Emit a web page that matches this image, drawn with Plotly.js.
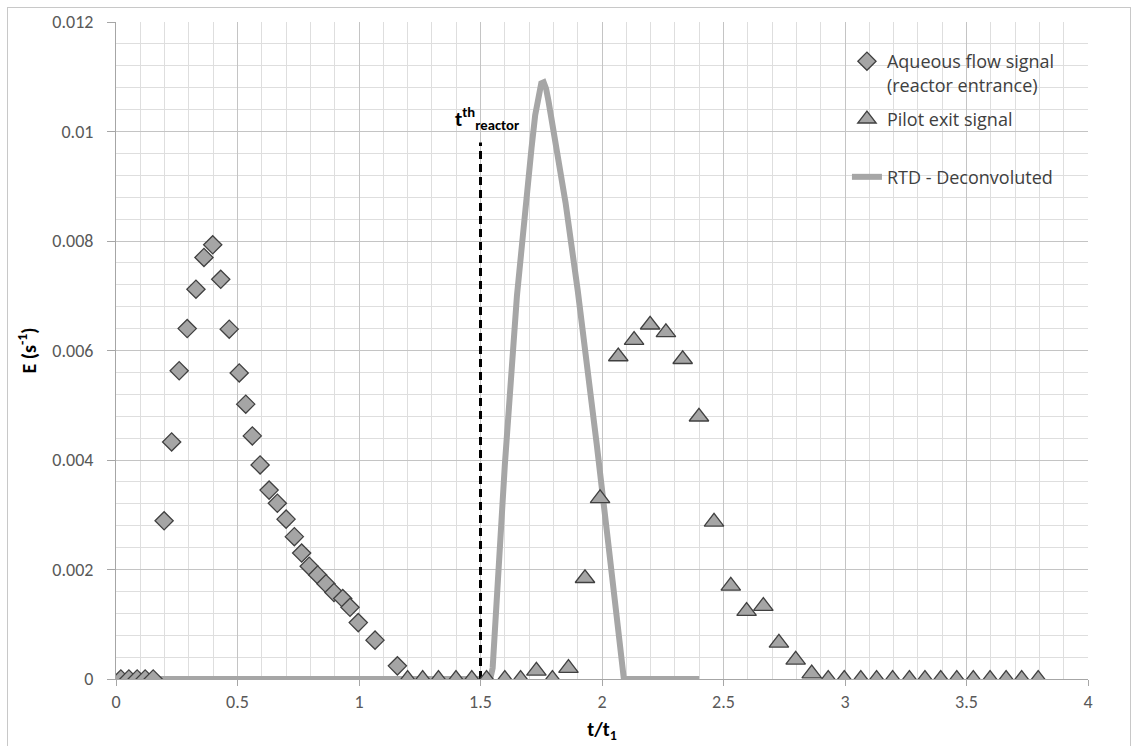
<!DOCTYPE html>
<html>
<head>
<meta charset="utf-8">
<script src="https://cdn.plot.ly/plotly-3.0.1.min.js"></script>
<style>
  html, body { margin: 0; padding: 0; background: #ffffff; }
  #chart { width: 1136px; height: 746px; position: relative; }
  #frame { position: absolute; left: 7px; top: 7px; width: 1122px; height: 745px; border: 1px solid #c8c8c8; pointer-events: none; }
</style>
</head>
<body>
<div id="chart"></div>
<div id="frame"></div>
<script>
// Aqueous flow signal (reactor entrance)
const aqueousX = [0.02, 0.053, 0.087, 0.12, 0.153, 0.198, 0.229, 0.26, 0.293, 0.329, 0.362, 0.398, 0.431, 0.466, 0.507, 0.534, 0.561, 0.593, 0.63, 0.664, 0.70, 0.734, 0.764, 0.795, 0.83, 0.864, 0.897, 0.933, 0.963, 0.997, 1.066, 1.158];
const aqueousE = [0, 0, 0, 0, 0, 0.00289, 0.00433, 0.00563, 0.0064, 0.00712, 0.0077, 0.00793, 0.0073, 0.00639, 0.00559, 0.00502, 0.00444, 0.00391, 0.00345, 0.00321, 0.00292, 0.0026, 0.0023, 0.00206, 0.0019, 0.00174, 0.00158, 0.00147, 0.00131, 0.00103, 0.00071, 0.00024];

// Pilot exit signal
const pilotX = [1.2, 1.262, 1.327, 1.399, 1.464, 1.525, 1.6, 1.665, 1.73, 1.796, 1.862, 1.93, 1.992, 2.067, 2.132, 2.198, 2.263, 2.332, 2.399, 2.461, 2.53, 2.595, 2.664, 2.728, 2.797, 2.863, 2.931, 2.997, 3.065, 3.13, 3.196, 3.265, 3.329, 3.394, 3.46, 3.528, 3.597, 3.663, 3.727, 3.795];
const pilotE = [0, 0, 0, 0, 0, 0, 0, 0, 0.00015, 0, 0.0002, 0.00184, 0.0033, 0.00589, 0.00619, 0.00647, 0.00633, 0.00584, 0.00479, 0.00287, 0.0017, 0.00124, 0.00133, 0.00066, 0.00035, 0.0001, 0, 0, 0, 0, 0, 0, 0, 0, 0, 0, 0, 0, 0, 0];

// RTD - Deconvoluted
const rtdX = [0, 1.54, 1.55, 1.6, 1.65, 1.683, 1.71, 1.725, 1.738, 1.75, 1.76, 1.77, 1.78, 1.79, 1.81, 1.85, 1.9, 1.95, 1.978, 2.02, 2.053, 2.075, 2.09, 2.4];
const rtdE = [0, 0, 0.0002, 0.0039, 0.0070, 0.0086, 0.0097, 0.0103, 0.0107, 0.01088, 0.0109, 0.01078, 0.01055, 0.0103, 0.0097, 0.0087, 0.0071, 0.0054, 0.0043, 0.0027, 0.0014, 0.0005, 0, 0];

// Theoretical reactor time marker
const tReactorX = [1.5, 1.5];
const tReactorE = [0, 0.0098];

const legendNames = ["Aqueous flow signal<br>(reactor entrance)", "Pilot exit signal<br> ", "RTD - Deconvoluted"];
const xTitle = "t/t<sub>1</sub>";
const yTitle = "E (s<sup>-1</sup>)";
const markerLabel = "t<sup>th</sup><sub>reactor</sub>";

const FONT = "Calibri, Carlito, Lato, 'DejaVu Sans', sans-serif";
const LEGFONT = "'Open Sans', Lato, sans-serif";

const traces = [
  {
    x: rtdX, y: rtdE, type: "scatter", mode: "lines", name: legendNames[2],
    line: { color: "#a6a6a6", width: 6 }, legendrank: 3, legendgroup: "c"
  },
  {
    x: tReactorX, y: tReactorE, type: "scatter", mode: "lines", showlegend: false,
    line: { color: "#000000", width: 3, dash: "8px,5px" }, hoverinfo: "skip"
  },
  {
    x: aqueousX, y: aqueousE, type: "scatter", mode: "markers", name: legendNames[0],
    marker: { symbol: "diamond", size: 14, color: "#a5a5a5", line: { color: "#404040", width: 1.3 } },
    legendrank: 1, legendgroup: "a"
  },
  {
    x: pilotX, y: pilotE, type: "scatter", mode: "markers", name: legendNames[1],
    marker: { symbol: "triangle-up", size: 17, color: "#a5a5a5", line: { color: "#404040", width: 1.3 } },
    legendrank: 2, legendgroup: "b"
  }
];

const layout = {
  width: 1136, height: 746,
  margin: { l: 116, r: 48, t: 22, b: 67 },
  paper_bgcolor: "#ffffff", plot_bgcolor: "#ffffff",
  font: { family: FONT, size: 16, color: "#595959" },
  showlegend: true,
  legend: {
    x: 0.752, y: 0.968, xanchor: "left", yanchor: "top", valign: "top",
    bgcolor: "rgba(255,255,255,0)", font: { size: 18, color: "#404040", family: LEGFONT },
    tracegroupgap: 8, itemclick: false, itemdoubleclick: false
  },
  xaxis: {
    range: [0, 4], tick0: 0, dtick: 0.5,
    showgrid: true, gridcolor: "#c4c4c4", gridwidth: 1,
    minor: { dtick: 0.1, showgrid: true, gridcolor: "#dedede", gridwidth: 1 },
    showline: true, linecolor: "#a6a6a6", linewidth: 1,
    ticks: "outside", ticklen: 6, tickcolor: "#a6a6a6",
    zeroline: false, fixedrange: true,
    tickfont: { size: 18, color: "#595959", family: FONT },
    title: { text: xTitle, font: { size: 20, color: "#000000", family: FONT, weight: "bold" }, standoff: 10 }
  },
  yaxis: {
    range: [0, 0.012], tick0: 0, dtick: 0.002,
    showgrid: true, gridcolor: "#c4c4c4", gridwidth: 1,
    minor: { dtick: 0.0004, showgrid: true, gridcolor: "#dedede", gridwidth: 1 },
    showline: true, linecolor: "#a6a6a6", linewidth: 1,
    ticks: "outside", ticklen: 8, tickcolor: "#a6a6a6",
    ticklabelstandoff: 10,
    zeroline: false, fixedrange: true,
    tickfont: { size: 18, color: "#595959", family: FONT },
    title: { text: yTitle, font: { size: 20, color: "#000000", family: FONT, weight: "bold" }, standoff: 10 }
  },
  annotations: [
    {
      x: 1.527, y: 0.00992, xref: "x", yref: "y", text: markerLabel, showarrow: false,
      font: { size: 21, color: "#000000", family: FONT, weight: "bold" },
      xanchor: "center", yanchor: "bottom"
    }
  ]
};

Plotly.newPlot("chart", traces, layout, { displayModeBar: false, staticPlot: true });
</script>
</body>
</html>
